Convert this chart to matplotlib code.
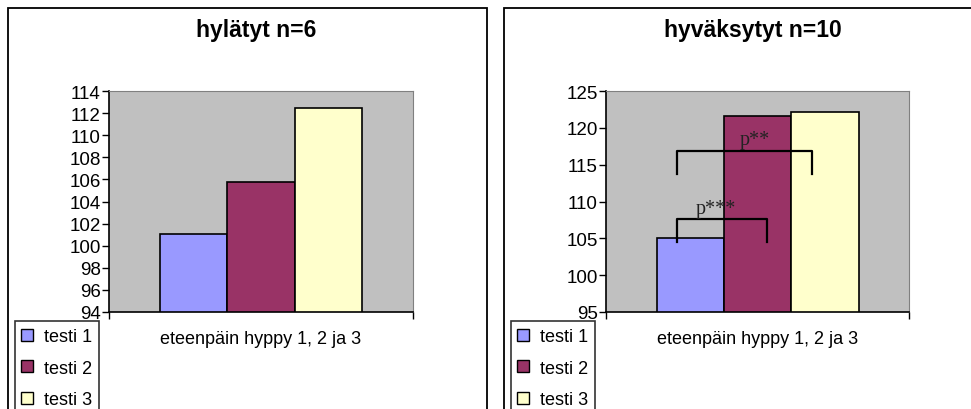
import matplotlib.pyplot as plt
from matplotlib.lines import Line2D
from matplotlib.patches import Rectangle

plt.rcParams['font.family'] = ['Liberation Sans', 'DejaVu Sans']

# Tulokset: eteenpäin hyppy, testit 1-3
testit = ['testi 1', 'testi 2', 'testi 3']
varit = ['#9999FF', '#993366', '#FFFFCC']
hylatyt = [101.1, 105.8, 112.5]
hyvaksytyt = [105.0, 121.6, 122.2]

otsikot = ['hylätyt n=6', 'hyväksytyt n=10']
ylarajat = [(94, 114), (95, 125)]
yaskeleet = [2, 5]
xnimi = 'eteenpäin hyppy 1, 2 ja 3'

# merkitsevyyssulut (alku, loppu, vaakaviiva, jalkojen pää, teksti, tekstin x)
sulut = [(-1.2, 0.81, 116.9, 113.7, 'p**', -0.04),
         (-1.2, 0.14, 107.6, 104.5, 'p***', -0.62)]

fig = plt.figure(figsize=(9.71, 4.10), dpi=100)

# paneelien kehykset
for x0, x1 in [(8, 487), (504, 980)]:
    fig.add_artist(Rectangle((x0 / 971, -0.05), (x1 - x0) / 971, (410 - 8.5) / 410 + 0.05,
                             transform=fig.transFigure, fill=False, edgecolor='black', lw=1.3))

paikat = [(109, 413), (606, 909)]
datat = [hylatyt, hyvaksytyt]
for i in range(2):
    xa, xb = paikat[i]
    ax = fig.add_axes([xa / 971, 1 - 313 / 410, (xb - xa) / 971, 221 / 410])
    ax.set_facecolor('#C0C0C0')
    ax.bar([-1, 0, 1], datat[i], width=1, color=varit, edgecolor='black', linewidth=1.2, zorder=2)
    ax.set_xlim(-2.25, 2.25)
    lo, hi = ylarajat[i]
    ax.set_ylim(lo, hi)
    ax.set_yticks(range(lo, hi + 1, yaskeleet[i]))
    ax.set_xticks([-2.25, 2.25])
    ax.set_xticklabels([])
    ax.tick_params(axis='both', direction='out', length=5, width=1, labelsize=13.5, pad=1)
    for s in ['top', 'right']:
        ax.spines[s].set_color('#808080')
    for s in ['left', 'bottom']:
        ax.spines[s].set_linewidth(1.2)
    fig.text((xa + xb) / 2 / 971 - 0.005, 1 - 30 / 410, otsikot[i], ha='center', va='center',
             fontsize=16.5, fontweight='bold')
    fig.text((xa + xb) / 2 / 971, 1 - 340 / 410, xnimi, ha='center', va='center', fontsize=13)

    kahvat = [Line2D([], [], marker='s', markersize=8, markerfacecolor=c, markeredgecolor='black',
                     linestyle='None') for c in varit]
    leg = fig.legend(kahvat, testit, loc='upper left',
                     bbox_to_anchor=((15 + 496 * i) / 971, 1 - 322 / 410),
                     fontsize=13, frameon=True, fancybox=False, edgecolor='black',
                     handlelength=0.5, handletextpad=0.7, labelspacing=0.8,
                     borderpad=0.4, borderaxespad=0)
    leg.get_frame().set_linewidth(1.2)

    if i == 1:
        for x0, x1, yv, yj, teksti, xt in sulut:
            ax.plot([x0, x0, x1, x1], [yj, yv, yv, yj], color='black', lw=1.6, zorder=3)
            ax.text(xt, yv + 0.2, teksti, ha='center', va='bottom',
                    family=['Liberation Serif', 'DejaVu Serif'],
                    fontsize=14.5, color='#222222', zorder=4)

fig.savefig('out.png', dpi=100)
